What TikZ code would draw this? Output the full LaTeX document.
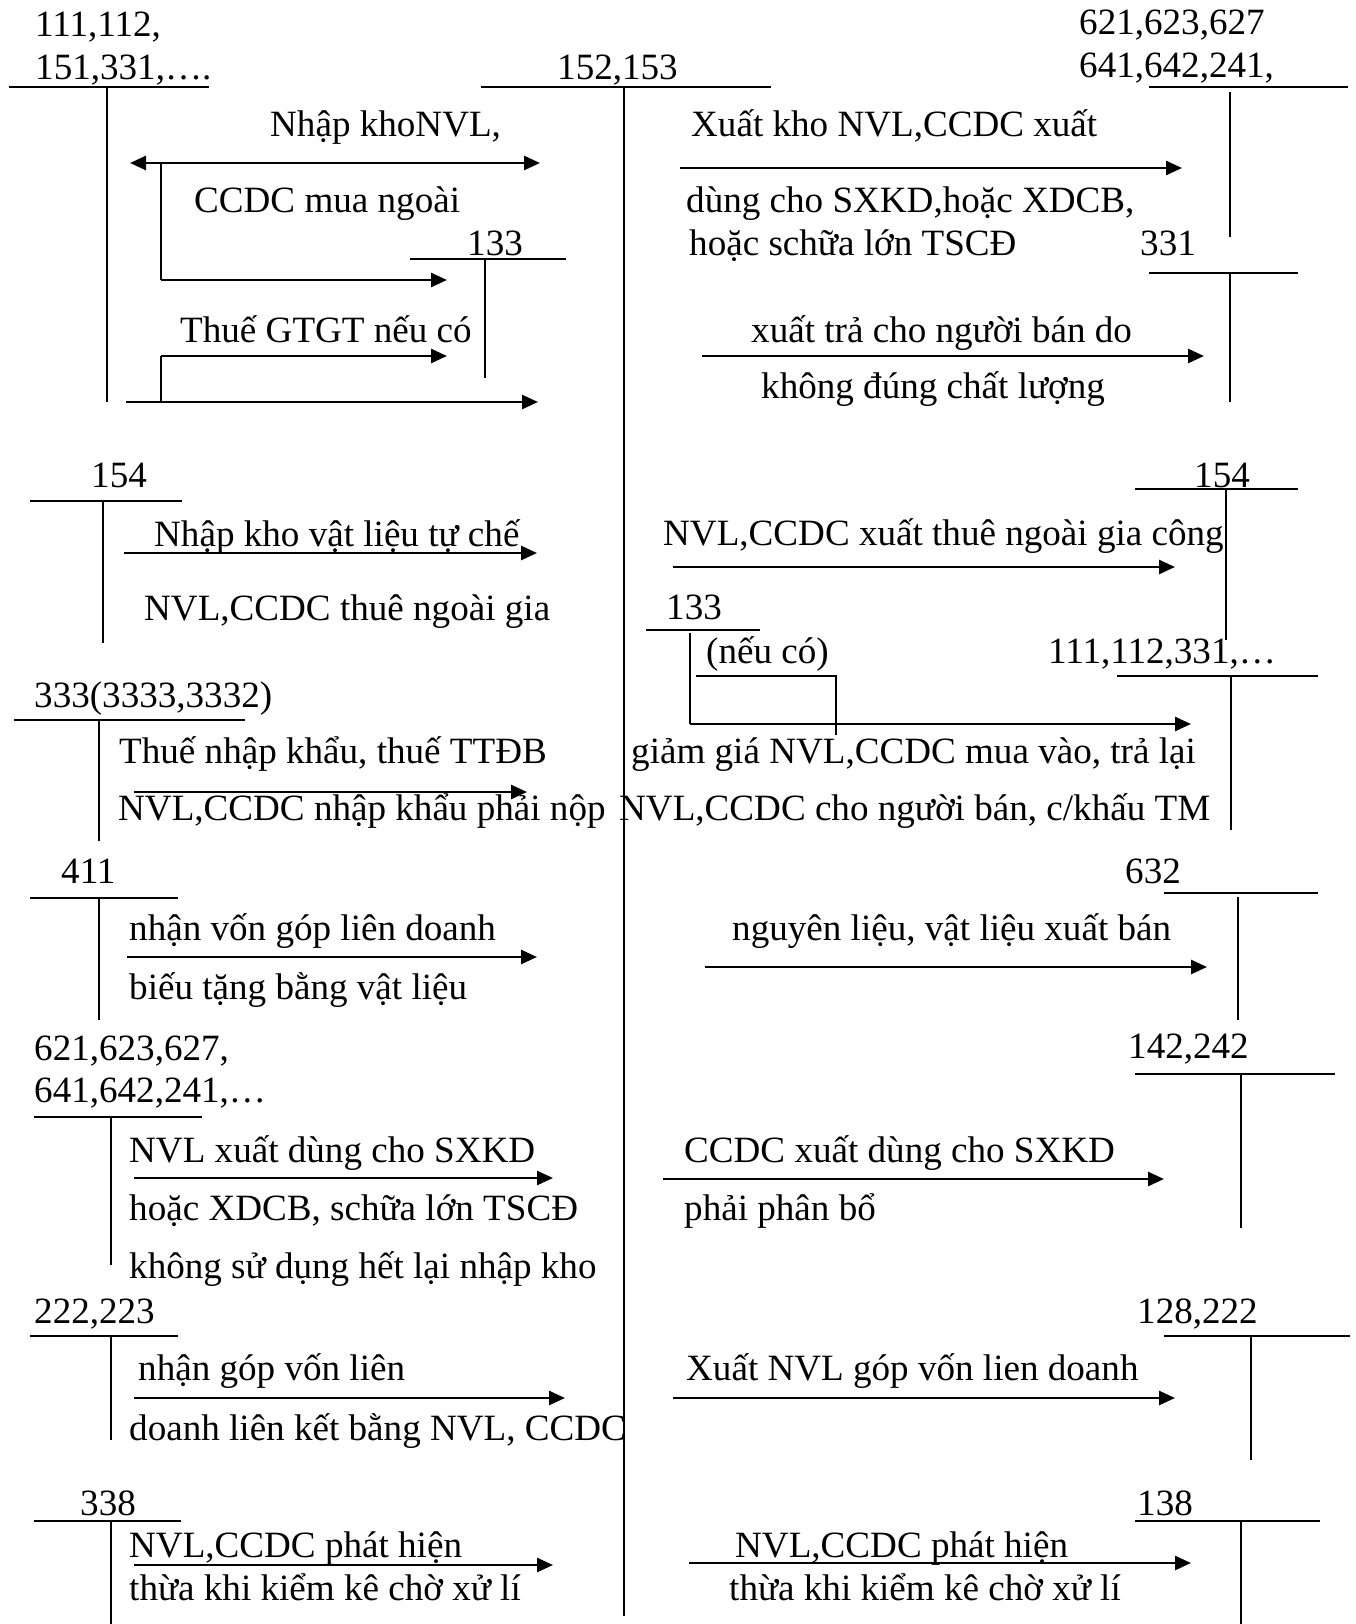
\documentclass[tikz,border=0pt]{standalone}
\usepackage{fontspec}
\setmainfont{Liberation Serif}
\usetikzlibrary{arrows.meta}
\tikzset{
  lbl/.style={anchor=base west, inner sep=0pt, font=\fontsize{37.1}{41}\selectfont},
  tacc/.style={line width=1.6pt},
  arr/.style={line width=2.6pt, -{Triangle[length=16pt,width=14pt]}},
  darr/.style={line width=2.6pt, {Triangle[length=16pt,width=14pt]}-{Triangle[length=16pt,width=14pt]}},
  plain/.style={line width=2.0pt}
}
\begin{document}
\begin{tikzpicture}[x=1pt,y=-1pt]
\useasboundingbox[fill=white] (0,0) rectangle (1356,1624);
% ---- T accounts
\draw[tacc] (9,87) -- (209,87); \draw[tacc] (107,87) -- (107,402);
\draw[tacc] (481,87) -- (771,87); \draw[tacc] (624,87) -- (624,1616);
\draw[tacc] (1149,87) -- (1348,87); \draw[tacc] (1230,92) -- (1230,237);
\draw[tacc] (410,259) -- (566,259); \draw[tacc] (485,259) -- (485,378);
\draw[tacc] (1149,273) -- (1298,273); \draw[tacc] (1230,273) -- (1230,402);
\draw[tacc] (30,501) -- (182,501); \draw[tacc] (103,501) -- (103,643);
\draw[tacc] (1135,489) -- (1298,489); \draw[tacc] (1226,489) -- (1226,640);
\draw[tacc] (646,630) -- (760,630);
\draw[tacc] (696,676) -- (836,676) -- (836,735);
\draw[tacc] (1117,676) -- (1318,676); \draw[tacc] (1231,676) -- (1231,830);
\draw[tacc] (14,720) -- (245,720); \draw[tacc] (99,720) -- (99,841);
\draw[tacc] (30,898) -- (178,898); \draw[tacc] (99,898) -- (99,1020);
\draw[tacc] (1164,893) -- (1318,893); \draw[tacc] (1238,897) -- (1238,1020);
\draw[tacc] (34,1117) -- (202,1117); \draw[tacc] (111,1117) -- (111,1265);
\draw[tacc] (1135,1074) -- (1335,1074); \draw[tacc] (1241,1074) -- (1241,1228);
\draw[tacc] (30,1336) -- (178,1336); \draw[tacc] (111,1336) -- (111,1440);
\draw[tacc] (1164,1336) -- (1350,1336); \draw[tacc] (1251,1336) -- (1251,1460);
\draw[tacc] (34,1521) -- (181,1521); \draw[tacc] (111,1521) -- (111,1624);
\draw[tacc] (1135,1521) -- (1320,1521); \draw[tacc] (1241,1521) -- (1241,1624);
% ---- arrows
\draw[darr] (130,163) -- (540,163);
\draw[tacc] (161,163) -- (161,280);
\draw[arr] (161,280) -- (447,280);
\draw[tacc] (161,356) -- (161,402);
\draw[arr] (161,356) -- (447,356);
\draw[arr] (126,402) -- (538,402);
\draw[arr] (680,168) -- (1182,168);
\draw[arr] (702,356) -- (1204,356);
\draw[arr] (124,553) -- (537,553);
\draw[arr] (673,567) -- (1175,567);
\draw[tacc] (690,633) -- (690,724);
\draw[arr] (690,724) -- (1191,724);
\draw[arr] (134,792) -- (527,792);
\draw[arr] (127,957) -- (537,957);
\draw[arr] (705,967) -- (1207,967);
\draw[arr] (134,1178) -- (553,1178);
\draw[arr] (663,1179) -- (1164,1179);
\draw[arr] (134,1398) -- (565,1398);
\draw[arr] (673,1398) -- (1175,1398);
\draw[arr] (134,1565) -- (553,1565);
\draw[arr] (689,1563) -- (1191,1563);
% ---- texts
\node[lbl] (a1) at (35,37) {111,112,};
\node[lbl] (a2) at (35,80) {151,331,….};
\node[lbl] (c0) at (557,80) {152,153};
\node[lbl] (b1) at (1079,35) {621,623,627};
\node[lbl] (b2) at (1079,78) {641,642,241,};
\node[lbl] (t1) at (270,137) {Nhập khoNVL,};
\node[lbl] (t2) at (194,212) {CCDC mua ngoài};
\node[lbl] (k133) at (467,255) {133};
\node[lbl] (t3) at (180,342) {Thuế GTGT nếu có};
\node[lbl] (r1) at (691,137) {Xuất kho NVL,CCDC xuất};
\node[lbl] (r2) at (686,212) {dùng cho SXKD,hoặc XDCB,};
\node[lbl] (r3) at (689,255) {hoặc schữa lớn TSCĐ};
\node[lbl] (k331) at (1140,255) {331};
\node[lbl] (r4) at (751,342) {xuất trả cho người bán do};
\node[lbl] (r5) at (761,398) {không đúng chất lượng};
\node[lbl] (k154a) at (91,487) {154};
\node[lbl] (t4) at (154,546) {Nhập kho vật liệu tự chế};
\node[lbl] (t5) at (144,620) {NVL,CCDC thuê ngoài gia};
\node[lbl] (k154b) at (1194,487) {154};
\node[lbl] (r6) at (663,545) {NVL,CCDC xuất thuê ngoài gia công};
\node[lbl] (k133b) at (666,619) {133};
\node[lbl] (r7) at (706,663) {(nếu có)};
\node[lbl] (k111) at (1048,663) {111,112,331,…};
\node[lbl] (k333) at (34,707) {333(3333,3332)};
\node[lbl] (t6) at (119,763) {Thuế nhập khẩu, thuế TTĐB};
\node[lbl] (t7) at (118,820) {NVL,CCDC nhập khẩu phải nộp};
\node[lbl] (r8) at (631,763) {giảm giá NVL,CCDC mua vào, trả lại};
\node[lbl] (r9) at (619,820) {NVL,CCDC cho người bán, c/khấu TM};
\node[lbl] (k411) at (61,883) {411};
\node[lbl] (t8) at (129,940) {nhận vốn góp liên doanh};
\node[lbl] (t9) at (129,999) {biếu tặng bằng vật liệu};
\node[lbl] (k632) at (1125,883) {632};
\node[lbl] (r10) at (732,940) {nguyên liệu, vật liệu xuất bán};
\node[lbl] (k621a) at (34,1060) {621,623,627,};
\node[lbl] (k621b) at (34,1102) {641,642,241,…};
\node[lbl] (k142) at (1128,1058) {142,242};
\node[lbl] (t10) at (129,1162) {NVL xuất dùng cho SXKD};
\node[lbl] (t11) at (129,1220) {hoặc XDCB, schữa lớn TSCĐ};
\node[lbl] (t12) at (129,1278) {không sử dụng hết lại nhập kho};
\node[lbl] (r11) at (684,1162) {CCDC xuất dùng cho SXKD};
\node[lbl] (r12) at (684,1220) {phải phân bổ};
\node[lbl] (k222) at (34,1323) {222,223};
\node[lbl] (t13) at (138,1380) {nhận góp vốn liên};
\node[lbl] (t14) at (129,1440) {doanh liên kết bằng NVL, CCDC};
\node[lbl] (k128) at (1137,1323) {128,222};
\node[lbl] (r13) at (686,1380) {Xuất NVL góp vốn lien doanh};
\node[lbl] (k338) at (80,1515) {338};
\node[lbl] (t15) at (129,1557) {NVL,CCDC phát hiện};
\node[lbl] (t16) at (129,1600) {thừa khi kiểm kê chờ xử lí};
\node[lbl] (k138) at (1137,1515) {138};
\node[lbl] (r14) at (735,1557) {NVL,CCDC phát hiện};
\node[lbl] (r15) at (729,1600) {thừa khi kiểm kê chờ xử lí};
\end{tikzpicture}
\end{document}
